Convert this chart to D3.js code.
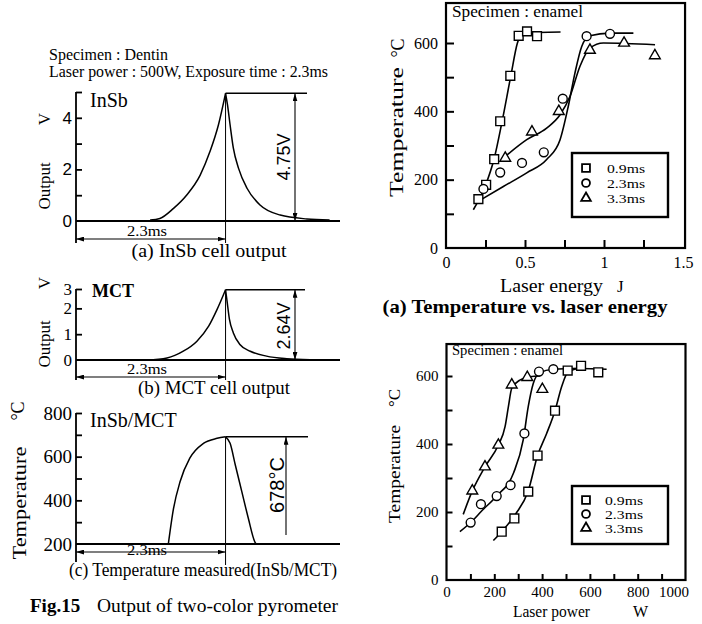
<!DOCTYPE html>
<html>
<head>
<meta charset="utf-8">
<title>Fig.15</title>
<script src="https://cdn.jsdelivr.net/npm/d3@7/dist/d3.min.js"></script>
<style>
  body { margin: 0; background: #fff; }
  .trace { fill: none; stroke: #000; stroke-width: 1.5; }
  .fit { fill: none; stroke: #000; stroke-width: 1.6; }
</style>
</head>
<body>
<svg id="fig" width="702" height="624"></svg>
<script>
// ---- left: pyrometer output traces, time in ms ----
var insb_t = [1.14, 1.29, 1.50, 1.70, 1.91, 2.06, 2.19, 2.30, 2.33, 2.37, 2.42, 2.50, 2.63, 2.83, 3.14, 3.55, 3.90];
var insb_v = [0.04, 0.10, 0.49, 1.00, 1.78, 2.69, 3.72, 4.95, 4.50, 3.72, 2.82, 2.04, 1.27, 0.62, 0.23, 0.08, 0.04];
var insb_peak = 7;

var mct_t = [1.09, 1.40, 1.65, 1.86, 2.04, 2.17, 2.30, 2.32, 2.36, 2.42, 2.52, 2.68, 2.93, 3.24, 3.60];
var mct_v = [0.00, 0.08, 0.34, 0.73, 1.31, 1.96, 2.72, 2.34, 1.57, 1.05, 0.60, 0.34, 0.15, 0.05, 0.01];
var mct_peak = 6;

var temp_t = [1.42, 1.50, 1.60, 1.75, 1.96, 2.17, 2.30, 2.37, 2.45, 2.55, 2.65, 2.75, 2.77];
var temp_c = [200, 363, 485, 593, 661, 684, 691, 661, 562, 440, 318, 210, 200];
var temp_peak = 6;

// ---- right (a): temperature vs laser energy (J) ----
var e_sq_x = [0.205, 0.254, 0.305, 0.343, 0.407, 0.46, 0.513, 0.576];
var e_sq_y = [143, 185, 260, 371, 504, 621, 634, 620];
var e_ci_x = [0.237, 0.343, 0.481, 0.619, 0.739, 0.89, 1.038];
var e_ci_y = [173, 221, 249, 280, 437, 620, 627];
var e_tr_x = [0.375, 0.544, 0.714, 0.911, 1.127, 1.322];
var e_tr_y = [263, 340, 400, 579, 600, 563];
var e_fit_sq_x = [0.173, 0.247, 0.305, 0.354, 0.41, 0.452, 0.483, 0.725];
var e_fit_sq_y = [112, 180, 262, 368, 503, 600, 628, 632];
var e_fit_ci_x = [0.205, 0.363, 0.511, 0.637, 0.722, 0.774, 0.816, 0.859, 0.911, 1.038, 1.186];
var e_fit_ci_y = [137, 180, 220, 259, 317, 415, 512, 590, 621, 629, 629];
var e_fit_tr_x = [0.375, 0.511, 0.637, 0.722, 0.785, 0.848, 0.911, 0.996, 1.323];
var e_fit_tr_y = [268, 317, 351, 390, 444, 532, 585, 600, 595];

// ---- right (b): temperature vs laser power (W) ----
var p_sq_x = [231, 284, 342, 381, 454, 507, 563, 635];
var p_sq_y = [142, 181, 260, 366, 498, 616, 630, 611];
var p_ci_x = [101, 144, 210, 268, 326, 387, 447];
var p_ci_y = [169, 223, 247, 279, 431, 613, 620];
var p_tr_x = [108, 161, 217, 273, 338, 401];
var p_tr_y = [262, 333, 397, 574, 596, 561];
var p_fit_sq_x = [196, 231, 290, 342, 381, 419, 454, 482, 507, 558, 670];
var p_fit_sq_y = [116, 142, 195, 262, 366, 431, 498, 569, 610, 622, 620];
var p_fit_ci_x = [56, 101, 150, 210, 280, 321, 342, 363, 391, 447, 560];
var p_fit_ci_y = [142, 169, 205, 247, 314, 412, 510, 578, 610, 620, 623];
var p_fit_tr_x = [70, 108, 161, 217, 245, 259, 273, 307, 349, 391];
var p_fit_tr_y = [193, 262, 333, 397, 451, 510, 564, 588, 598, 600];

var legend_labels = ["0.9ms", "2.3ms", "3.3ms"];

var serif = '"Liberation Serif","Times New Roman",serif';
var sans = '"Liberation Sans",Arial,sans-serif';

var svg = d3.select("#fig");
svg.append("rect").attr("width", 702).attr("height", 624).attr("fill", "#fff");

var defs = svg.append("defs");
defs.append("marker").attr("id", "ah")
  .attr("viewBox", "0 0 10 6").attr("refX", 10).attr("refY", 3)
  .attr("markerWidth", 8).attr("markerHeight", 5)
  .attr("markerUnits", "userSpaceOnUse").attr("orient", "auto-start-reverse")
  .append("path").attr("d", "M0,0L10,3L0,6z");

function txt(x, y, s, size, o){
  o = o || {};
  var t = svg.append("text")
    .attr("font-family", o.sans ? sans : serif)
    .attr("font-size", size)
    .attr("text-anchor", o.anchor || "start")
    .attr("fill", "#000")
    .text(s);
  if(o.rot) t.attr("transform", "translate(" + x + "," + y + ") rotate(-90)");
  else t.attr("x", x).attr("y", y);
  if(o.len) t.attr("textLength", o.len).attr("lengthAdjust", "spacingAndGlyphs");
  if(o.bold) t.attr("font-weight", "bold");
  return t;
}
function seg(x1, y1, x2, y2, w){
  return svg.append("line")
    .attr("x1", x1).attr("y1", y1).attr("x2", x2).attr("y2", y2)
    .attr("stroke", "#000").attr("stroke-width", w || 1.2);
}
function arrow(x1, y1, x2, y2, both){
  var l = seg(x1, y1, x2, y2, 1.1).attr("marker-end", "url(#ah)");
  if(both) l.attr("marker-start", "url(#ah)");
  return l;
}

// shared time scale of the three traces
var tx = d3.scaleLinear().domain([0, 4.06]).range([76, 340]);

function trace(t, v, pk, ys){
  var pts = t.map(function(d, i){ return [d, v[i]]; });
  var line = d3.line()
    .x(function(d){ return tx(d[0]); })
    .y(function(d){ return ys(d[1]); })
    .curve(d3.curveMonotoneX);
  svg.append("path").attr("class", "trace").attr("d", line(pts.slice(0, pk + 1)));
  svg.append("path").attr("class", "trace").attr("d", line(pts.slice(pk)));
}
function yaxis(ys, ticks, labels, fmt, size, font){
  var g = svg.append("g").attr("transform", "translate(" + tx(0) + ",0)")
    .call(d3.axisRight(ys).tickValues(ticks).tickSize(6).tickFormat(""));
  g.select(".domain").remove();
  g.selectAll("line").attr("stroke-width", 1.8);
  var gl = svg.append("g").attr("transform", "translate(" + tx(0) + ",0)")
    .call(d3.axisLeft(ys).tickValues(labels).tickSize(0).tickPadding(4).tickFormat(fmt));
  gl.select(".domain").remove();
  gl.attr("font-size", size).attr("font-family", font);
}

// (a) InSb
var yA = d3.scaleLinear().domain([0, 5]).range([221, 92]);
seg(tx(0), yA(5), tx(0), 243, 1.8);
seg(tx(0), yA(0), 340, yA(0), 1.8);
yaxis(yA, [1, 2, 3, 4, 5], [0, 2, 4], d3.format("d"), 17, sans);
trace(insb_t, insb_v, insb_peak, yA);
var pA = yA(insb_v[insb_peak]);
seg(tx(2.3), pA, 307, pA, 1.4);
seg(tx(2.3), pA, tx(2.3), 243, 1);
arrow(295, pA, 295, yA(0), true);
arrow(tx(0), 239, tx(2.3), 239, true);
txt(147, 236, "2.3ms", 14, {anchor: "middle", len: 40});
txt(290, 157, "4.75V", 18, {rot: true, anchor: "middle", sans: true});
txt(90, 107, "InSb", 20);
txt(50, 186, "Output", 17, {rot: true, anchor: "middle"});
txt(50, 119, "V", 17, {rot: true, anchor: "middle"});
txt(209, 257, "(a) InSb cell output", 18, {anchor: "middle", len: 155});
txt(49, 60, "Specimen : Dentin", 16, {len: 119});
txt(49, 77, "Laser power : 500W, Exposure time : 2.3ms", 16, {len: 279});

// (b) MCT
var yB = d3.scaleLinear().domain([0, 2.75]).range([360, 289]);
seg(tx(0), yB(2.75), tx(0), 380, 1.8);
seg(tx(0), yB(0), 340, yB(0), 1.8);
yaxis(yB, [1, 2, 2.75], [0, 1, 2, 2.75], d3.format(".0f"), 17, serif);
trace(mct_t, mct_v, mct_peak, yB);
var pB = yB(mct_v[mct_peak]);
seg(tx(2.3), pB, 305, pB, 1.4);
seg(tx(2.3), pB, tx(2.3), 380, 1);
arrow(295, pB, 295, yB(0), true);
arrow(tx(0), 377, tx(2.3), 377, true);
txt(147, 374, "2.3ms", 14, {anchor: "middle", len: 40});
txt(290, 326, "2.64V", 18, {rot: true, anchor: "middle", sans: true});
txt(92, 297, "MCT", 18, {bold: true});
txt(50, 344, "Output", 17, {rot: true, anchor: "middle"});
txt(50, 283, "V", 17, {rot: true, anchor: "middle"});
txt(214, 394, "(b) MCT cell output", 18, {anchor: "middle", len: 152});

// (c) InSb/MCT temperature
var yC = d3.scaleLinear().domain([200, 800]).range([544, 413]);
seg(tx(0), yC(800), tx(0), 562, 1.8);
seg(tx(0), yC(200), 340, yC(200), 1.8);
yaxis(yC, [300, 400, 500, 600, 700, 800], [200, 400, 600, 800], d3.format("d"), 19, serif);
trace(temp_t, temp_c, temp_peak, yC);
var pC = yC(temp_c[temp_peak]);
seg(tx(2.3), pC, 308, pC, 1.4);
seg(tx(2.3), pC, tx(2.3), 565, 1);
arrow(286, 535, 286, pC, false);
arrow(tx(0), 552, tx(2.3), 552, true);
txt(147, 555, "2.3ms", 14, {anchor: "middle", len: 40});
txt(284, 485, "678°C", 20, {rot: true, anchor: "middle", sans: true});
txt(90, 427, "InSb/MCT", 20);
txt(26, 503, "Temperature", 18, {rot: true, anchor: "middle", len: 113});
txt(24, 411, "°C", 18, {rot: true, anchor: "middle"});
txt(203, 576, "(c) Temperature measured(InSb/MCT)", 18, {anchor: "middle", len: 268});
var fig = txt(30, 612, "", 19);
fig.append("tspan").attr("font-weight", "bold").text("Fig.15");
fig.append("tspan").attr("x", 97).attr("textLength", 241).attr("lengthAdjust", "spacingAndGlyphs")
  .text("Output of two-color pyrometer");

// ---- right panels ----
var num = function(d){ return String(d); };
function labelAxis(xs, y0, vals, pad, fs, anchor){
  svg.append("g").attr("transform", "translate(0," + y0 + ")")
    .call(d3.axisBottom(xs).tickValues(vals).tickSize(0).tickPadding(pad).tickFormat(num))
    .call(function(g){
      g.select(".domain").remove();
      g.attr("font-size", fs).attr("font-family", serif);
      if(anchor) g.selectAll("text").attr("text-anchor", anchor).attr("dx", 3);
    });
}
function panel(p){
  var xs = p.xs, ys = p.ys;
  var x0 = xs(0), y0 = ys(0);
  var top = ys(p.ytop), right = xs(p.xright);
  var gx = svg.append("g").attr("transform", "translate(0," + y0 + ")")
    .call(d3.axisBottom(xs).tickValues(p.xticks).tickSize(-p.tick).tickPadding(p.xpad).tickFormat(p.xfmt));
  var gy = svg.append("g").attr("transform", "translate(" + x0 + ",0)")
    .call(d3.axisLeft(ys).tickValues(p.yticks).tickSize(-p.tick).tickPadding(8).tickFormat(p.yfmt));
  [gx, gy].forEach(function(g){
    g.select(".domain").remove();
    g.attr("font-size", p.fs).attr("font-family", serif);
    g.selectAll("line").attr("stroke-width", 2);
  });
  labelAxis(xs, y0, [0], p.xpad, p.fs);
  svg.append("g").attr("transform", "translate(" + x0 + ",0)")
    .call(d3.axisLeft(ys).tickValues([0]).tickSize(0).tickPadding(8).tickFormat(num))
    .call(function(g){ g.select(".domain").remove(); g.attr("font-size", p.fs).attr("font-family", serif); });
  labelAxis(xs, y0, [p.lastLabel], p.xpad, p.fs, p.lastAnchor);
  svg.append("rect").attr("x", x0).attr("y", top).attr("width", right - x0).attr("height", y0 - top)
    .attr("fill", "none").attr("stroke", "#000").attr("stroke-width", 2.2);

  var line = d3.line().x(function(d){ return xs(d[0]); }).y(function(d){ return ys(d[1]); })
    .curve(d3.curveMonotoneX);
  var shapes = [d3.symbolSquare, d3.symbolCircle, d3.symbolTriangle];
  var sizes = [78, 62, 50];
  p.series.forEach(function(s){
    var fit = s.fx.map(function(d, i){ return [d, s.fy[i]]; });
    svg.append("path").attr("class", "fit").attr("d", line(fit));
  });
  p.series.forEach(function(s, k){
    var pts = s.x.map(function(d, i){ return [d, s.y[i]]; });
    svg.selectAll(null).data(pts).enter().append("path")
      .attr("transform", function(d){ return "translate(" + xs(d[0]) + "," + ys(d[1]) + ")"; })
      .attr("d", d3.symbol().type(shapes[k]).size(sizes[k]))
      .attr("fill", "#fff").attr("stroke", "#000").attr("stroke-width", 1.4);
  });
  // legend
  var L = p.legend;
  svg.append("rect").attr("x", L.x).attr("y", L.y).attr("width", L.w).attr("height", L.h)
    .attr("fill", "#fff").attr("stroke", "#000").attr("stroke-width", 2.4);
  legend_labels.forEach(function(lab, k){
    var cy = L.row0 + k * L.dy;
    svg.append("path").attr("transform", "translate(" + L.mx + "," + cy + ")")
      .attr("d", d3.symbol().type(shapes[k]).size(sizes[k] * 0.8))
      .attr("fill", "#fff").attr("stroke", "#000").attr("stroke-width", 1.8);
    txt(L.tx, cy + 4.5, lab, L.fs, {len: 38});
  });
}

var xsE = d3.scaleLinear().domain([0, 1.5]).range([446, 683]);
var ysE = d3.scaleLinear().domain([0, 600]).range([248, 43]);
panel({
  xs: xsE, ys: ysE, ytop: 717, xright: 1.513, tick: 8, xpad: 9, fs: 16,
  xticks: [0.25, 0.5, 0.75, 1, 1.25], xfmt: function(d){ return d % 0.5 === 0 ? String(d) : ""; },
  yticks: [100, 200, 300, 400, 500, 600], yfmt: function(d){ return d % 200 === 0 ? d : ""; },
  lastLabel: 1.5, lastAnchor: null,
  series: [
    {x: e_sq_x, y: e_sq_y, fx: e_fit_sq_x, fy: e_fit_sq_y},
    {x: e_ci_x, y: e_ci_y, fx: e_fit_ci_x, fy: e_fit_ci_y},
    {x: e_tr_x, y: e_tr_y, fx: e_fit_tr_x, fy: e_fit_tr_y}
  ],
  legend: {x: 572, y: 153, w: 96, h: 64, mx: 586, tx: 607, row0: 168, dy: 15, fs: 13}
});
txt(452, 17, "Specimen : enamel", 17, {len: 131});
txt(500, 292, "Laser energy", 19, {len: 103});
txt(617, 292, "J", 17);
txt(403, 132, "Temperature", 19, {rot: true, anchor: "middle", len: 130});
txt(404, 48, "°C", 18, {rot: true, anchor: "middle"});
txt(525, 313, "(a) Temperature vs. laser energy", 19, {anchor: "middle", bold: true, len: 285});

var xsP = d3.scaleLinear().domain([0, 1000]).range([446.5, 685.5]);
var ysP = d3.scaleLinear().domain([0, 600]).range([580, 376]);
panel({
  xs: xsP, ys: ysP, ytop: 694, xright: 1000, tick: 6, xpad: 6, fs: 15,
  xticks: d3.range(100, 1000, 100), xfmt: function(d){ return d % 200 === 0 ? String(d) : ""; },
  yticks: [100, 200, 300, 400, 500, 600], yfmt: function(d){ return d % 200 === 0 ? d : ""; },
  lastLabel: 1000, lastAnchor: "end",
  series: [
    {x: p_sq_x, y: p_sq_y, fx: p_fit_sq_x, fy: p_fit_sq_y},
    {x: p_ci_x, y: p_ci_y, fx: p_fit_ci_x, fy: p_fit_ci_y},
    {x: p_tr_x, y: p_tr_y, fx: p_fit_tr_x, fy: p_fit_tr_y}
  ],
  legend: {x: 572, y: 486, w: 96, h: 58, mx: 586, tx: 605, row0: 500, dy: 14, fs: 11.5}
});
txt(452, 355, "Specimen : enamel", 15, {len: 111});
txt(513, 617, "Laser power", 16, {len: 77});
txt(633, 617, "W", 16);
txt(400, 474, "Temperature", 17, {rot: true, anchor: "middle", len: 98});
txt(400, 398, "°C", 17, {rot: true, anchor: "middle"});
</script>
</body>
</html>
